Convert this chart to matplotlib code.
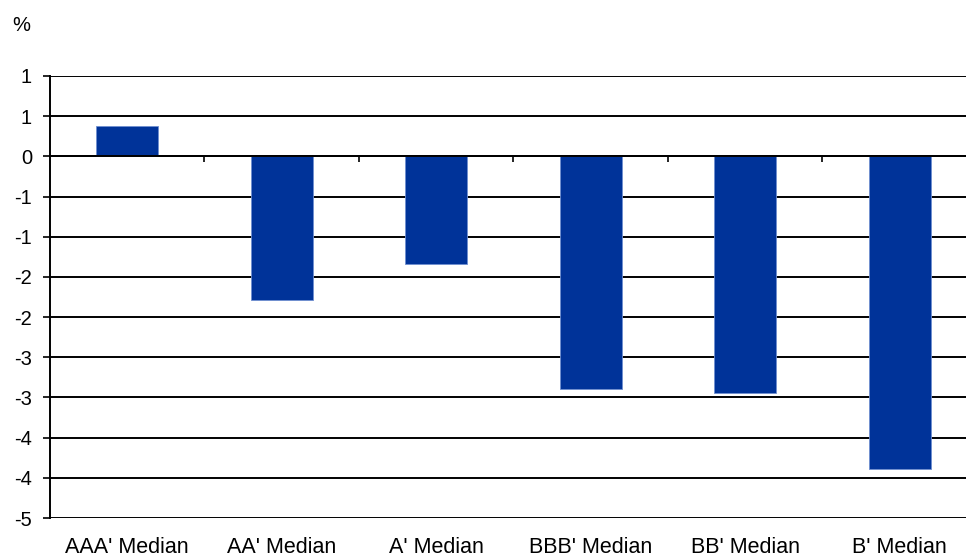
import matplotlib
matplotlib.use("Agg")
import matplotlib.pyplot as plt
import numpy as np

categories = ["AAA' Median", "AA' Median", "A' Median", "BBB' Median", "BB' Median", "B' Median"]
values = [0.38, -1.79, -1.34, -2.90, -2.94, -3.89]
ytick_values = [1.0, 0.5, 0.0, -0.5, -1.0, -1.5, -2.0, -2.5, -3.0, -3.5, -4.0, -4.5]
ytick_labels = ["1", "1", "0", "-1", "-1", "-2", "-2", "-3", "-3", "-4", "-4", "-5"]

plt.rcParams['font.family'] = ['Liberation Sans', 'DejaVu Sans']

W, H = 966, 558
fig = plt.figure(figsize=(W / 100, H / 100), dpi=100)
left_px, right_px, top_px, bot_px = 50, 977, 76, 518
ax = fig.add_axes([left_px / W, 1 - bot_px / H, (right_px - left_px) / W, (bot_px - top_px) / H])

x = np.arange(len(categories))
ax.bar(x, values, width=0.4, color='#003399', edgecolor='#6f8fd0', linewidth=0.6, zorder=2)

ax.set_xlim(-0.5, len(categories) - 0.5)
ax.set_ylim(min(ytick_values), max(ytick_values))
ax.set_yticks(ytick_values)
ax.set_yticklabels(ytick_labels, fontsize=14.5)
ax.tick_params(axis='y', direction='out', length=5, width=1.2, pad=8, color='black')

ax.set_xticks(np.arange(len(categories) - 1) + 0.5)
ax.set_xticklabels([])
ax.tick_params(axis='x', direction='out', length=4, width=1.2, color='black')

ax.yaxis.grid(True, color='black', linewidth=1.4, zorder=1)
ax.set_axisbelow(True)

for s in ['top', 'right']:
    ax.spines[s].set_visible(False)
ax.spines['bottom'].set_position(('data', 0))
ax.spines['bottom'].set_linewidth(1.4)
ax.spines['bottom'].set_zorder(3)
ax.spines['left'].set_linewidth(1.4)

trans = ax.get_xaxis_transform()
for xi, lab in zip(x, categories):
    ax.text(xi, -0.0785, lab, transform=trans, ha='center', va='baseline', fontsize=15.5, clip_on=False)

fig.text(12 / W, 1 - 31 / H, "%", fontsize=14.5, ha='left', va='baseline')

fig.savefig("out.png", dpi=100, facecolor='white')
